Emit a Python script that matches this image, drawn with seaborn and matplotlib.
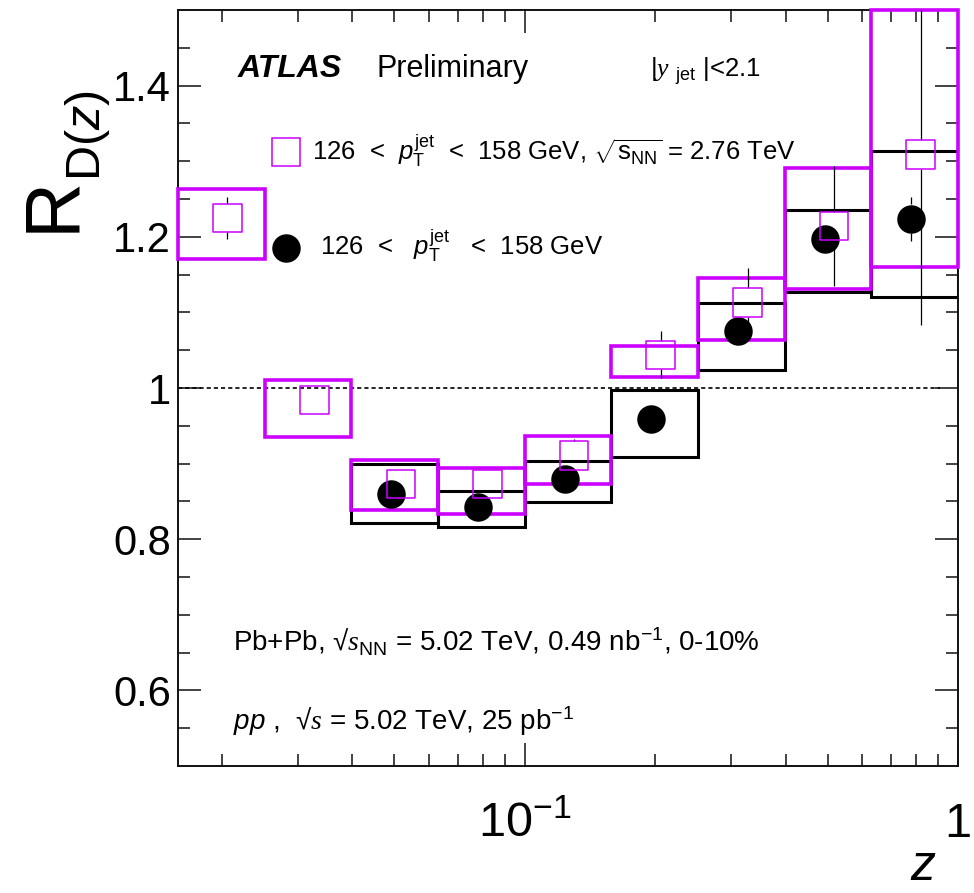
import matplotlib
matplotlib.use('Agg')
import matplotlib.pyplot as plt
import seaborn as sns
import numpy as np
from matplotlib.patches import Rectangle
from matplotlib.ticker import FixedLocator, FixedFormatter, NullFormatter

# z bin edges (log-spaced, 5 per decade)
z_edges = [0.01585, 0.02512, 0.03981, 0.06310, 0.1000, 0.1585, 0.2512, 0.3981, 0.6310, 1.000]

# sqrt(s_NN) = 2.76 TeV (magenta open squares)
z_276 = [0.0206, 0.0327, 0.0518, 0.0820, 0.130, 0.206, 0.327, 0.518, 0.820]
r_276 = [1.225, 0.984, 0.873, 0.873, 0.911, 1.044, 1.113, 1.214, 1.309]
stat_276 = [0.028, 0.010, 0.010, 0.010, 0.022, 0.031, 0.046, 0.079, 0.225]
sys_lo_276 = [1.171, 0.935, 0.838, 0.833, 0.873, 1.014, 1.064, 1.131, 1.160]
sys_hi_276 = [1.263, 1.011, 0.905, 0.894, 0.937, 1.055, 1.145, 1.291, 1.500]

# sqrt(s_NN) = 5.02 TeV (black full circles), bins 3-9
z_502 = [0.0492, 0.0780, 0.1236, 0.196, 0.3105, 0.492, 0.780]
r_502 = [0.860, 0.842, 0.880, 0.959, 1.076, 1.197, 1.224]
stat_502 = [0.010, 0.010, 0.012, 0.015, 0.015, 0.015, 0.029]
sys_lo_502 = [0.821, 0.816, 0.849, 0.909, 1.024, 1.127, 1.120]
sys_hi_502 = [0.899, 0.864, 0.903, 0.997, 1.113, 1.236, 1.313]

x_ticks = [0.1, 1.0]
x_tick_labels = [r'$10^{-1}$', '1']
y_ticks = [0.6, 0.8, 1.0, 1.2, 1.4]
y_tick_labels = ['0.6', '0.8', '1', '1.2', '1.4']

MAGENTA = '#cc00ff'
MS = 20.5  # marker size in points
DPI = 100

sns.set_theme(style='ticks')
plt.rcParams['font.family'] = ['Liberation Sans', 'DejaVu Sans']
plt.rcParams['mathtext.fontset'] = 'custom'
plt.rcParams['mathtext.rm'] = 'Liberation Sans'
plt.rcParams['mathtext.it'] = 'Liberation Sans:italic'
plt.rcParams['mathtext.bf'] = 'Liberation Sans:bold'
plt.rcParams['mathtext.sf'] = 'Liberation Serif:italic'  # used for the serif italic y and s
for key in ['text.color', 'axes.labelcolor', 'xtick.color', 'ytick.color']:
    plt.rcParams[key] = 'black'

fig = plt.figure(figsize=(9.74, 8.93), dpi=DPI)
ax = fig.add_axes([0.1828, 0.1422, 0.8008, 0.8466])
ax.set_xscale('log')
ax.set_xlim(z_edges[0], z_edges[-1])
ax.set_ylim(0.5, 1.5)

# half marker height in data units, so error bars start at the marker edge
ax_h_px = 8.93 * DPI * 0.8466
half = (MS / 2 * DPI / 72) / ax_h_px * 1.0

# reference line at 1
ax.hlines(1.0, z_edges[0], 0.91, colors='black', linewidth=1.2,
          linestyles=(0, (2.5, 1.8)), zorder=1)

# systematic boxes, 5.02 TeV
for i in range(len(r_502)):
    lo, hi = z_edges[i + 2], z_edges[i + 3]
    ax.add_patch(Rectangle((lo, sys_lo_502[i]), hi - lo, sys_hi_502[i] - sys_lo_502[i],
                           fill=False, edgecolor='black', linewidth=2.2, zorder=2))

# systematic boxes, 2.76 TeV
for i in range(len(r_276)):
    lo, hi = z_edges[i], z_edges[i + 1]
    ax.add_patch(Rectangle((lo, sys_lo_276[i]), hi - lo, sys_hi_276[i] - sys_lo_276[i],
                           fill=False, edgecolor=MAGENTA, linewidth=2.6, zorder=3,
                           clip_on=False))


def stat_bars(xs, ys, errs, z):
    for x, y, e in zip(xs, ys, errs):
        if e > half:
            ax.vlines(x, y + half, y + e, colors='black', linewidth=0.9, zorder=z)
            ax.vlines(x, y - e, y - half, colors='black', linewidth=0.9, zorder=z)


stat_bars(z_502, r_502, stat_502, 4)
stat_bars(z_276, r_276, stat_276, 4)

sns.scatterplot(x=z_502, y=r_502, ax=ax, marker='o', s=MS ** 2, color='black',
                edgecolor='black', linewidth=0, zorder=5, legend=False)
sns.scatterplot(x=z_276, y=r_276, ax=ax, marker='s', s=MS ** 2, facecolor='none',
                edgecolor=MAGENTA, linewidth=1.1, zorder=6, legend=False)

# axes styling (ROOT-like inward ticks on all sides)
for sp in ax.spines.values():
    sp.set_linewidth(1.4)
    sp.set_color('#111111')
    sp.set_visible(True)
ax.xaxis.set_major_locator(FixedLocator(x_ticks))
ax.xaxis.set_major_formatter(FixedFormatter(x_tick_labels))
ax.xaxis.set_minor_locator(FixedLocator([0.02, 0.03, 0.04, 0.05, 0.06, 0.07, 0.08, 0.09,
                                         0.2, 0.3, 0.4, 0.5, 0.6, 0.7, 0.8, 0.9]))
ax.xaxis.set_minor_formatter(NullFormatter())
ax.yaxis.set_major_locator(FixedLocator(y_ticks))
ax.yaxis.set_major_formatter(FixedFormatter(y_tick_labels))
ax.yaxis.set_minor_locator(FixedLocator(list(np.arange(0.55, 1.5, 0.05))))
ax.tick_params(which='both', direction='in', top=True, right=True, width=1.1, color='#111111')
ax.tick_params(which='major', length=16.5)
ax.tick_params(which='minor', length=8.3)
ax.tick_params(axis='y', which='major', labelsize=30, pad=5)
ax.tick_params(axis='x', which='major', labelsize=35, pad=26)

# x title sits at the lower right corner, as in ROOT
fig.text(923 / 974, 1 - 880 / 893, 'z', fontsize=36, fontstyle='italic',
         ha='center', va='baseline')

# y title: large R with a smaller D(z) subscript, rotated like the ROOT axis title
fig.text(73 / 974, 1 - 232 / 893, 'R', fontsize=56, rotation=90,
         rotation_mode='anchor', ha='left', va='baseline')
fig.text(100 / 974, 1 - 181 / 893, r'D($z$)', fontsize=35, rotation=90,
         rotation_mode='anchor', ha='left', va='baseline')

# annotations
ax.text(0.077, 0.911, 'ATLAS', transform=ax.transAxes, fontsize=23,
        fontweight='bold', fontstyle='italic', va='baseline')
ax.text(0.255, 0.911, 'Preliminary', transform=ax.transAxes, fontsize=22, va='baseline')
ax.text(0.605, 0.911, r'|$\mathsf{y}$ $_{\mathrm{jet}}$ |<2.1', transform=ax.transAxes,
        fontsize=18.5, va='baseline')

ax.plot([0.1385], [0.812], transform=ax.transAxes, marker='s', ms=MS * 0.95,
        mfc='none', mec=MAGENTA, mew=1.1, clip_on=False)
ax.text(0.1718, 0.8016,
        r'126  <  $p_{\mathrm{T}}^{\mathrm{jet}}$  <  158 GeV, $\sqrt{\mathrm{s}_{\mathrm{NN}}}$ = 2.76 TeV',
        transform=ax.transAxes, fontsize=18.5, va='baseline')
ax.plot([0.1385], [0.685], transform=ax.transAxes, marker='o', ms=MS,
        color='black', mew=0, clip_on=False)
ax.text(0.182, 0.676, r'126  <   $p_{\mathrm{T}}^{\mathrm{jet}}$   <  158 GeV',
        transform=ax.transAxes, fontsize=18.5, va='baseline')

ax.text(0.0705, 0.151,
        r'Pb+Pb, √$\mathsf{s}_{\mathrm{NN}}$ = 5.02 TeV, 0.49 nb$^{\mathrm{-1}}$, 0-10%',
        transform=ax.transAxes, fontsize=20, va='baseline')
ax.text(0.0705, 0.048, r'$pp$ ,  √$\mathsf{s}$ = 5.02 TeV, 25 pb$^{\mathrm{-1}}$',
        transform=ax.transAxes, fontsize=20, va='baseline')

fig.savefig('out.png', dpi=DPI)
